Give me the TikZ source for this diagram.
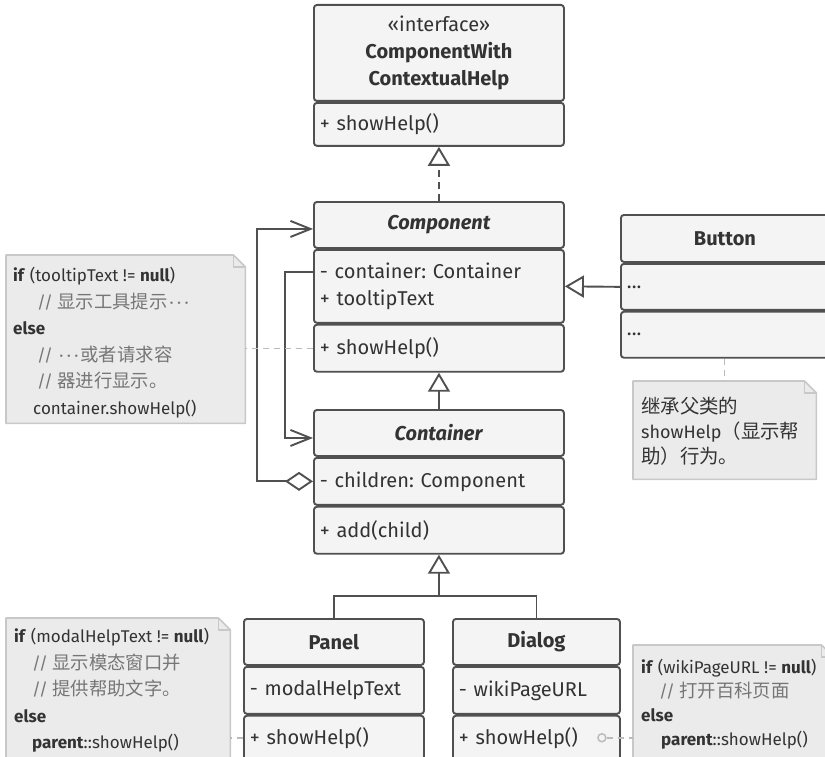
\documentclass[tikz,border=0pt]{standalone}
\usepackage{fontspec}
\setmainfont{Fira Sans}
\newfontfamily\cjk[Scale=1.08]{Noto Sans CJK SC}
\usetikzlibrary{arrows.meta,calc}
\frenchspacing
\definecolor{bc}{HTML}{505050}
\definecolor{bf}{HTML}{F4F4F4}
\definecolor{tc}{HTML}{333333}
\definecolor{nf}{HTML}{EBEBEB}
\definecolor{nb}{HTML}{C8C8C8}
\definecolor{cm}{HTML}{767676}
\definecolor{dl}{HTML}{BBBBBB}
\newcommand\mynote[1]{%
  \draw[nb, fill=nf, line width=1.6pt, line join=round] (#1.south west) -- (#1.north west) -- ($(#1.north east)+(-12,0)$) -- ($(#1.north east)+(0,12)$) -- (#1.south east) -- cycle;
  \draw[nb, line width=1.6pt, line join=round] ($(#1.north east)+(-12,0)$) |- ($(#1.north east)+(0,12)$);}
\newcommand\middots{\kern2pt·\kern3.5pt·\kern3.5pt·\kern2pt}
\begin{document}
\begin{tikzpicture}[x=1pt,y=-1pt,
  box/.style={draw=bc, fill=bf, line width=1.9pt, rounded corners=3pt, anchor=north west, inner xsep=6pt, inner ysep=0pt, text=tc, font=\fontsize{20}{27}\selectfont\frenchspacing},
  hd/.style n args={2}{box, minimum width=#1, minimum height=#2, align=center},
  cmp/.style n args={2}{box, text width=#1, minimum height=#2, align=left},
  conn/.style={draw=bc, line width=1.9pt},
  inh/.style={conn, -{Triangle[fill=white, length=19pt, width=22pt]}},
  noteln/.style={draw=dl, line width=1.5pt, dash pattern=on 6pt off 5pt},
  notebg/.style={draw=none, fill=none, anchor=north west, inner sep=0pt},
  notetxt/.style={anchor=north west, align=left, inner sep=0pt, text=tc, font=\fontsize{17}{26.5}\selectfont\frenchspacing}
]
\useasboundingbox (0,0) rectangle (825,757);
\clip (0,0) rectangle (825,757);

% Interface
\node[hd={250}{96}] (ifH) at (313,4) {«interface»\\\textbf{ComponentWith}\\\textbf{ContextualHelp}};
\node[cmp={238}{43}] (ifM) at (ifH.south west) {+ showHelp()};

% Component
\node[hd={250}{46}] (compH) at (313,201) {\textbf{\textit{Component}}};
\node[cmp={238}{73}] (compA) at (compH.south west) {- container: Container\\+ tooltipText};
\node[cmp={238}{47}] (compM) at (compA.south west) {+ showHelp()};

% Container
\node[hd={250}{46}] (contH) at (313,409) {\textbf{\textit{Container}}};
\node[cmp={238}{47}] (contA) at (contH.south west) {- children: Component};
\node[cmp={238}{47}] (contM) at (contA.south west) {+ add(child)};

% Button
\node[hd={208}{47}] (btnH) at (620,214) {\textbf{Button}};
\node[cmp={196}{46}] (btnA) at (btnH.south west) {...};
\node[cmp={196}{46}] (btnM) at (btnA.south west) {...};

% Panel
\node[hd={180}{46}] (panH) at (243,618) {\textbf{Panel}};
\node[cmp={168}{47}] (panA) at (panH.south west) {- modalHelpText};
\node[cmp={168}{44}] (panM) at (panA.south west) {+ showHelp()};

% Dialog
\node[hd={167}{46}] (dlgH) at (452,618) {\textbf{Dialog}};
\node[cmp={155}{47}] (dlgA) at (dlgH.south west) {- wikiPageURL};
\node[cmp={155}{44}] (dlgM) at (dlgA.south west) {+ showHelp()};

% Connectors
\draw[inh, dash pattern=on 7pt off 5pt] (compH.north) -- (ifM.south);
\draw[inh] (contH.north) -- (compM.south);
\draw[inh] (btnA.west) -- (compA.east);
\draw[conn] (dlgH.north) |- ($(contM.south)+(0,41)$);
\draw[inh] (panH.north) |- ($(contM.south)+(0,41)$) -- (contM.south);
\draw[conn, {Diamond[fill=white, length=28pt, width=19pt]}-{Straight Barb[length=20pt, width=16pt]}]
  (contA.west) -- ++(-56,0) |- ($(compH.west)+(0,4)$);
\draw[conn, -{Straight Barb[length=20pt, width=16pt]}]
  ($(compA.north west)+(0,23)$) -- ++(-28,0) |- ($(contH.west)+(0,5)$);

% Left note
\node[notebg, minimum width=239, minimum height=168] (lnote) at (6,255) {};
\mynote{lnote}
\node[notetxt] (lnoteT) at ($(lnote.north west)+(7,12)$) {%
\textbf{if} (tooltipText != \textbf{null})\\
\hspace*{24pt}\textcolor{cm}{// {\cjk 显示工具提示}\middots}\\
\textbf{else}\\
\hspace*{24pt}\textcolor{cm}{// \middots{\cjk 或者请求容}}\\
\hspace*{24pt}\textcolor{cm}{// {\cjk 器进行显示。}}\\
\hspace*{20pt}container.showHelp()};
\draw[noteln] (compM.west) -- (compM.west -| lnote.east);

% Button note
\node[notebg, minimum width=183, minimum height=98] (bnote) at (633,381) {};
\mynote{bnote}
\node[notetxt, font=\fontsize{18}{25}\selectfont] (bnoteT) at ($(bnote.north west)+(8,16)$) {%
{\cjk 继承父类的}\\
showHelp{\cjk （显示帮}\\
{\cjk 助）行为。}};
\draw[noteln] (btnM.south -| bnote.north) -- (bnote.north);

% Panel note
\node[notebg, minimum width=224, minimum height=160] (pnote) at (6,618) {};
\mynote{pnote}
\node[notetxt] (pnoteT) at ($(pnote.north west)+(8,10)$) {%
\textbf{if} (modalHelpText != \textbf{null})\\
\hspace*{18pt}\textcolor{cm}{// {\cjk 显示模态窗口并}}\\
\hspace*{18pt}\textcolor{cm}{// {\cjk 提供帮助文字。}}\\
\textbf{else}\\
\hspace*{18pt}\textbf{parent}::showHelp()};
\draw[noteln] (panM.west) -- (panM.west -| pnote.east);

% Dialog note
\node[notebg, minimum width=200, minimum height=160] (dnote) at (633,645) {};
\mynote{dnote}
\node[notetxt, font=\fontsize{17}{24}\selectfont\frenchspacing] (dnoteT) at ($(dnote.north west)+(8,14)$) {%
\textbf{if} (wikiPageURL != \textbf{null})\\
\hspace*{18pt}\textcolor{cm}{// {\cjk 打开百科页面}}\\
\textbf{else}\\
\hspace*{20pt}\textbf{parent}::showHelp()};
\node[circle, draw=dl, fill=bf, line width=1.5pt, minimum size=8pt, inner sep=0pt] (dc) at ($(dlgM.east)+(-19,0)$) {};
\draw[noteln] (dc.east) -- (dc.east -| dnote.west);
\end{tikzpicture}
\end{document}
